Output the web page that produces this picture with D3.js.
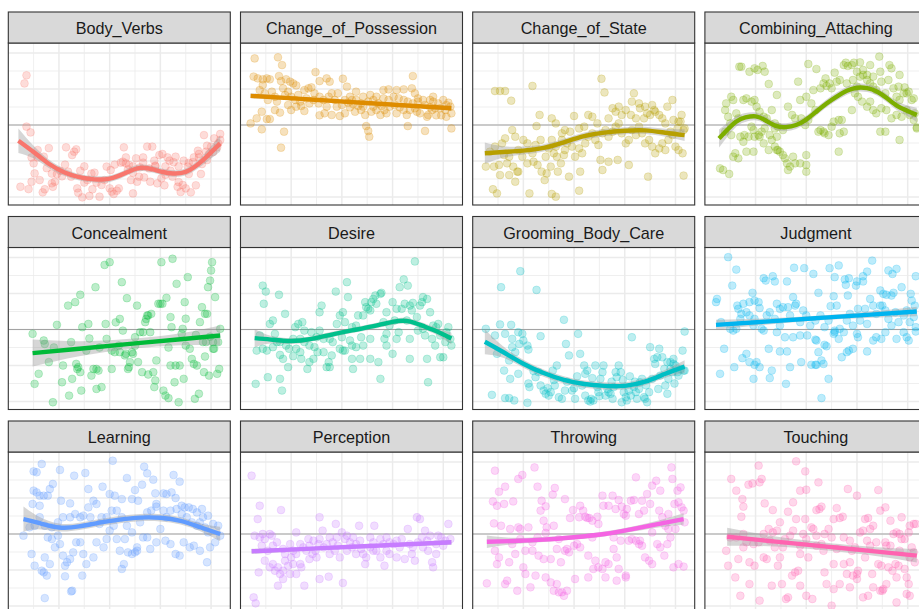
<!DOCTYPE html>
<html>
<head>
<meta charset="utf-8">
<script src="https://cdn.jsdelivr.net/npm/d3@7"></script>
<style>
html, body { margin: 0; padding: 0; background: #ffffff; overflow: hidden; }
svg { display: block; }
</style>
</head>
<body>
<svg id="chart" width="919" height="609"></svg>
<script>
// Verb classes, one facet each, with the default hue palette
const categories = ["Body_Verbs", "Change_of_Possession", "Change_of_State", "Combining_Attaching",
  "Concealment", "Desire", "Grooming_Body_Care", "Judgment",
  "Learning", "Perception", "Throwing", "Touching"];
const colors = ["#F8766D", "#DE8C00", "#B79F00", "#7CAE00", "#00BA38", "#00C08B",
  "#00BFC4", "#00B4F0", "#619CFF", "#C77CFF", "#F564E3", "#FF64B0"];

const xBreaksMajor = [1850, 1900, 1950, 2000];
const xBreaksMinor = [1825, 1875, 1925, 1975];
const yBreaksMajor = [-4, -2, 0, 2, 4];
const yBreaksMinor = [-3, -1, 1, 3];

// Yearly scores: [year, value]
const bodyVerbsPoints = [[1818,2.76],[1816,2.31],[1818,-0.09],[1822,-0.41],[1812,-3.43],[1820,-3.56],[1823,-3.15],[1825,-2.13],[1826,-2.69],[1829,-1.39],[1835,-1.76],[1840,-1.28],[1831,-3.06],[1834,-3.74],[1836,-3.57],[1843,-3.24],[1844,-3.43],[1846,-3.15],[1848,-2.72],[1851,-2.54],[1853,-2.85],[1857,-1.24],[1859,-2.59],[1862,-2.87],[1863,-1.67],[1865,-1.48],[1867,-1.35],[1868,-3.52],[1869,-3.76],[1871,-2.54],[1873,-4.02],[1875,-3.2],[1878,-3.06],[1880,-3.94],[1883,-3.57],[1885,-2.65],[1887,-3.2],[1890,-3.98],[1892,-3.33],[1895,-3.06],[1897,-2.31],[1900,-3.52],[1902,-3.7],[1904,-3.83],[1907,-3.65],[1909,-3.52],[1911,-2.09],[1913,-2.04],[1914,-1.24],[1916,-2.13],[1918,-2.46],[1919,-2.22],[1921,-3.06],[1923,-2.65],[1923,-3.8],[1926,-1.85],[1927,-3.15],[1929,-2.87],[1930,-2.35],[1933,-2.09],[1934,-2.91],[1937,-1.2],[1939,-2.41],[1940,-3.15],[1942,-1.2],[1944,-1.98],[1945,-2.26],[1947,-3.24],[1949,-1.67],[1951,-2.96],[1952,-1.61],[1954,-3.35],[1955,-2.76],[1957,-1.8],[1959,-1.98],[1960,-2.54],[1962,-2.87],[1963,-2.07],[1965,-1.76],[1967,-3.43],[1968,-3.17],[1970,-3.72],[1972,-3.33],[1973,-1.98],[1975,-3.52],[1977,-2.31],[1978,-2.72],[1980,-3.74],[1982,-2.06],[1983,-1.8],[1985,-3.35],[1987,-1.43],[1988,-1.61],[1990,-2.72],[1991,-2.17],[1993,-0.56],[1995,-1.48],[1996,-1.15],[1998,-1.61],[2000,-1.2],[2003,-0.74],[2006,-1.24],[2007,-1.02],[2009,-0.5],[2009,-0.83],[1838,-2.4],[1843,-2.7],[1856,-2.2],[1875,-2.3],[1882,-2.7],[1901,-2.5],[1905,-2.2],[1916,-1.8],[1923,-2.3],[1933,-1.8],[1945,-2.3],[1955,-2.3],[1968,-2.3],[1978,-2.1],[1988,-1.8],[1996,-1.95],[2002,-1.5],[1829,-1.8],[1823,-1.8]];

const changeOfPossessionPoints = [[1814,3.7],[1837,3.76],[1841,3.33],[1813,2.69],[1817,2.59],[1822,2.54],[1826,2.59],[1829,2.54],[1838,2.72],[1840,2.44],[1845,2.54],[1849,2.41],[1852,2.31],[1855,2.2],[1874,2.94],[1878,2.44],[1885,2.59],[1888,2.41],[1901,2.57],[1905,2.13],[1914,1.39],[1921,1.57],[1928,1.67],[1934,1.57],[1941,1.94],[1946,1.98],[1954,1.94],[1961,1.98],[1970,2.72],[1969,2.04],[1972,1.76],[1975,1.48],[1980,1.39],[1987,1.39],[1990,1.3],[1995,1.2],[2003,1.11],[2007,1.02],[1810,0.09],[1816,0.37],[1821,0.74],[1826,0.33],[1829,0.33],[1834,0.83],[1839,0.69],[1843,-0.37],[1840,-1.26],[1821,-0.24],[1847,1.11],[1850,0.83],[1855,1.02],[1860,1.06],[1863,0.78],[1868,1.2],[1878,0.54],[1883,0.65],[1890,0.56],[1898,0.5],[1903,0.65],[1908,0.98],[1911,1.17],[1916,1.06],[1919,0.83],[1923,0.56],[1924,-0.06],[1926,-0.33],[1927,-0.65],[1929,0.74],[1934,0.83],[1939,1.06],[1942,0.83],[1947,1.02],[1952,1.11],[1957,0.98],[1961,0.83],[1965,-0.06],[1967,0.83],[1972,0.93],[1977,0.65],[1982,-0.33],[1984,0.46],[1989,0.83],[1993,0.54],[1998,0.54],[2003,0.46],[2008,-0.19],[2008,0.65],[1819,1.94],[1822,2.22],[1831,1.85],[1834,1.57],[1842,2.04],[1844,1.67],[1850,1.57],[1854,1.39],[1859,1.3],[1863,1.94],[1867,2.04],[1870,2.09],[1873,1.76],[1878,1.57],[1882,1.39],[1887,1.57],[1890,1.76],[1893,1.39],[1896,1.76],[1903,1.39],[1906,1.24],[1910,1.39],[1914,1.85],[1919,1.2],[1926,1.3],[1931,1.39],[1936,1.2],[1941,1.48],[1946,1.39],[1951,1.57],[1956,1.48],[1961,1.39],[1965,1.3],[1970,1.2],[1975,1.3],[1982,1.11],[1987,0.98],[1992,0.93],[1997,0.93],[2002,0.83],[2005,1.24],[1824,1.76],[1827,1.39],[1836,1.3],[1847,1.85],[1857,1.67],[1865,1.48],[1872,1.39],[1877,1.2],[1885,1.02],[1895,1.02],[1900,1.11],[1908,1.57],[1913,0.74],[1921,1.02],[1931,1.02],[1938,0.56],[1944,0.65],[1954,0.65],[1964,0.56],[1974,0.74],[1985,0.56],[2000,1.39],[1990,1.57]];

const changeOfStatePoints = [[1822,1.89],[1827,1.89],[1832,1.89],[1838,1.35],[1859,2.17],[1927,2.57],[1930,1.81],[1959,1.76],[1957,1.3],[1964,1.2],[1970,1.02],[1977,1.11],[1979,0.83],[1984,0.56],[1992,1.02],[1997,1.39],[2003,0.19],[2006,0.56],[2009,-0.19],[2008,-2.81],[1973,-2.87],[1954,-2.22],[1943,-1.94],[1934,-2.04],[1928,-2.5],[1926,-1.94],[1905,-3.65],[1906,-2.59],[1895,-2.87],[1884,-2.59],[1878,-3.83],[1882,-3.98],[1866,0.56],[1863,-0.06],[1856,-3.8],[1842,-3.15],[1844,-2.59],[1836,-2.78],[1827,-2.78],[1824,-3.8],[1820,-3.57],[1813,-2.31],[1826,-2.22],[1834,-2.13],[1845,-2.59],[1849,-1.76],[1854,-2.13],[1860,-2.04],[1864,-2.22],[1868,-2.59],[1871,-3.06],[1873,-2.69],[1877,-2.31],[1880,-1.57],[1883,-1.76],[1887,-2.13],[1890,-1.67],[1893,-1.02],[1898,-1.2],[1901,-1.76],[1905,-1.3],[1908,-1.57],[1911,-1.02],[1914,-0.65],[1918,-0.46],[1921,-0.83],[1924,-1.11],[1928,-0.46],[1931,-0.28],[1934,-0.65],[1938,-0.37],[1941,-0.09],[1944,0.09],[1947,-0.46],[1951,-1.02],[1954,-0.83],[1957,-0.28],[1961,-0.56],[1964,-0.09],[1967,-0.46],[1970,-1.02],[1974,-0.83],[1977,-1.2],[1980,-1.57],[1984,-1.3],[1987,-1.02],[1990,-1.39],[1993,-0.83],[1997,-0.56],[2000,-1.2],[2003,-1.39],[2007,-1.57],[2008,-0.28],[1878,0.37],[1882,0.09],[1888,-0.46],[1891,-0.28],[1896,-0.37],[1900,0.5],[1905,-0.19],[1910,-0.09],[1914,0.56],[1918,0.46],[1923,0.09],[1934,0.37],[1938,0.93],[1941,0.74],[1944,1.02],[1947,0.56],[1951,0.83],[1956,0.56],[1961,0.37],[1965,0.93],[1969,0.37],[1972,0.65],[1975,0.56],[1980,0.74],[1987,0.37],[1990,0.09],[1995,-0.37],[1998,0.28],[2002,-0.19],[2005,0.19],[1817,-1.48],[1822,-1.2],[1829,-1.02],[1832,-0.74],[1839,-0.28],[1842,-0.65],[1845,-1.39],[1850,-0.83],[1854,-1.02],[1859,-1.57],[1862,-1.11],[1867,-0.83],[1872,-1.76],[1875,-1.3],[1878,-0.83],[1882,-1.2],[1888,-0.83],[1891,-1.39],[1831,-1.67],[1836,-1.76],[1840,-2.31],[1821,-2.31]];

const combiningAttachingPoints = [[1815,-2.41],[1824,-2.72],[1834,3.24],[1836,3.24],[1844,2.96],[1849,3.15],[1857,3.28],[1859,2.96],[1852,3.06],[1863,2.28],[1871,1.67],[1892,2.41],[1902,3.39],[1910,3.11],[1919,2.59],[1923,2.31],[1928,2.91],[1937,3.33],[1939,3.46],[1941,3.28],[1945,3.33],[1947,3.46],[1953,3.48],[1956,3.06],[1963,3.33],[1972,3.8],[1982,3.33],[1984,3.15],[1992,2.78],[1991,2.13],[1997,2.09],[1999,1.76],[2004,1.39],[2007,0.65],[2009,-0.19],[1820,0.83],[1826,1.57],[1828,1.39],[1821,1.2],[1823,0.46],[1825,0.09],[1831,0.65],[1833,0.37],[1838,1.39],[1841,1.48],[1846,1.3],[1849,1.39],[1851,1.02],[1854,0.74],[1858,0.46],[1861,0.37],[1866,0.83],[1869,0.09],[1872,-0.09],[1877,-0.28],[1882,1.02],[1886,0.56],[1889,0.37],[1895,0.37],[1899,0],[1902,0.28],[1905,1.2],[1909,0.83],[1912,-0.37],[1914,-0.28],[1918,-0.46],[1922,-0.56],[1927,0.19],[1932,0.28],[1935,0.28],[1937,-0.37],[1945,0.83],[1948,1.76],[1951,1.57],[1955,1.3],[1960,1.02],[1963,1.3],[1966,0.83],[1969,0.65],[1974,0.93],[1979,0.83],[1984,0.37],[1989,0.56],[1994,0.46],[1999,0.83],[2002,0.56],[2006,0.28],[2009,-0.13],[1894,1.39],[1900,1.57],[1907,1.94],[1914,2.04],[1917,2.31],[1920,2.17],[1925,2.04],[1930,2.41],[1933,2.5],[1940,2.31],[1946,2.5],[1950,2.13],[1953,2.69],[1956,2.78],[1960,2.5],[1963,2.31],[1966,2.13],[1969,1.94],[1974,2.41],[1978,1.76],[1981,2.5],[1986,2.04],[1989,1.57],[1992,1.39],[1996,1.76],[2001,1.85],[2006,1.48],[1973,2.96],[1966,2.69],[1960,2.78],[1950,2.96],[1818,-2.5],[1828,-1.76],[1830,-1.57],[1833,-1.85],[1838,-0.93],[1839,-0.56],[1843,-0.65],[1846,-0.09],[1848,-0.28],[1849,-0.65],[1853,-0.56],[1854,-0.65],[1856,-0.37],[1858,-1.02],[1863,-1.39],[1866,-0.83],[1869,-1.2],[1871,-1.39],[1872,-1.39],[1874,-1.48],[1877,-1.67],[1879,-1.85],[1881,-2.13],[1882,-2.5],[1884,-2.31],[1889,-2.13],[1894,-2.13],[1900,-2.22],[1900,-2.59],[1887,-1.76],[1900,-1.67],[1917,-0.37],[1925,-0.09],[1933,-0.46],[1973,-0.37],[1978,-0.37],[1992,-0.83],[1932,-1.48],[1871,-0.65],[1864,-0.56],[1869,-0.19],[1859,-0.19],[1835,-0.65],[1841,-1.48],[1848,-1.48],[1826,-0.56],[1820,-0.37]];

const concealmentPoints = [[1824,-0.24],[1830,-2.46],[1826,-3.02],[1835,-0.61],[1836,-0.8],[1840,-1.81],[1844,-4.04],[1848,0.26],[1854,-2.0],[1853,-2.93],[1859,1.33],[1860,-3.67],[1863,-2.74],[1866,1.52],[1867,-1.91],[1868,-2.19],[1869,-2.09],[1871,-2.37],[1871,1.93],[1872,-3.39],[1873,0.13],[1877,-1.17],[1879,0.31],[1882,-2.56],[1884,-2.19],[1886,2.35],[1887,-3.3],[1887,-2.19],[1889,-2.28],[1892,-3.2],[1895,3.59],[1896,0.31],[1897,-0.52],[1900,3.74],[1902,-2.19],[1902,-1.17],[1905,-1.26],[1909,-0.89],[1910,0.59],[1910,-1.26],[1912,2.63],[1913,-0.06],[1915,-1.44],[1916,-1.35],[1917,1.74],[1918,-2.19],[1919,-2.09],[1920,-1.81],[1922,-1.26],[1923,-1.35],[1925,-0.43],[1927,1.33],[1928,-1.81],[1930,-0.15],[1932,-2.37],[1933,-0.15],[1935,0.41],[1936,0.59],[1937,0.78],[1938,0.78],[1940,-0.15],[1941,0.87],[1943,-2.37],[1944,-3.2],[1945,-2.83],[1946,-1.72],[1948,1.43],[1950,1.43],[1951,3.74],[1952,1.43],[1953,-3.39],[1955,-3.67],[1956,1.76],[1958,-3.81],[1960,0.69],[1960,-2.0],[1961,0.13],[1962,3.93],[1964,-2.93],[1965,-2.0],[1966,2.54],[1968,-4.04],[1969,-2.0],[1971,-0.24],[1972,0.04],[1973,-2.74],[1974,1.52],[1975,-0.89],[1977,2.91],[1979,-1.07],[1981,-1.63],[1983,-1.91],[1984,-3.85],[1986,-2.0],[1988,-3.57],[1989,0.41],[1991,1.24],[1992,-0.7],[1993,-2.37],[1994,0.87],[1995,-0.7],[1996,0.87],[1997,2.35],[1998,-2.56],[1999,2.72],[2000,3.28],[2001,3.74],[2002,-0.7],[2002,-1.07],[2003,-1.07],[2004,1.8],[2006,-2.46],[2007,-0.7],[2008,-2.19],[2009,0.04],[1890,-1.0],[1906,0.4],[1925,-0.9],[1958,-1.0],[1985,-0.3],[1999,-0.4],[1880,-0.5],[1845,-1.0],[1862,-0.7],[1938,-2.5],[1975,0.6],[1994,-1.5]];

const desirePoints = [[1822,2.44],[1825,2.11],[1823,1.43],[1829,0.31],[1832,0.5],[1838,1.93],[1844,0.87],[1834,-0.24],[1822,-1.07],[1826,-1.17],[1816,-1.17],[1815,-3.02],[1827,-2.65],[1839,-2.74],[1841,-3.39],[1836,-0.7],[1839,-1.41],[1842,-1.63],[1847,-2.09],[1848,-1.07],[1852,-1.48],[1855,-1.07],[1859,-1.26],[1860,-1.63],[1861,0.41],[1857,0.31],[1854,0.13],[1859,-0.52],[1863,-0.7],[1866,-2.19],[1868,-1.81],[1870,-0.15],[1873,-0.98],[1876,-1.26],[1878,0.96],[1880,1.33],[1878,-0.06],[1882,-0.52],[1885,-2.09],[1887,-1.81],[1888,-2.09],[1891,-0.7],[1894,2.11],[1895,0.31],[1898,0.78],[1901,0.96],[1903,0.41],[1905,2.63],[1906,1.8],[1898,-1.07],[1901,-1.17],[1903,-1.17],[1908,-0.61],[1910,-1.63],[1911,-2.19],[1914,-0.98],[1916,0.78],[1918,-1.63],[1919,-0.43],[1921,0.78],[1923,1.52],[1924,1.24],[1926,1.15],[1928,1.06],[1929,1.52],[1931,1.7],[1933,1.89],[1934,1.43],[1938,1.98],[1939,2.04],[1941,0.41],[1942,-0.52],[1944,-0.24],[1944,0.96],[1947,0.22],[1936,-1.81],[1938,-2.74],[1950,1.52],[1952,0.5],[1954,1.15],[1956,-0.15],[1957,2.35],[1959,1.15],[1961,2.78],[1962,1.43],[1964,0.5],[1965,2.44],[1967,1.33],[1969,1.06],[1970,1.48],[1972,3.78],[1974,0.69],[1975,-0.06],[1977,1.33],[1979,1.52],[1980,1.8],[1982,-0.33],[1984,1.7],[1985,-2.93],[1987,0.96],[1989,-0.52],[1990,0.22],[1992,-0.89],[1993,0.13],[1995,0.31],[1997,-1.54],[2000,-1.54],[2002,-0.7],[2005,0.13],[2007,-0.52],[2008,-0.89],[2003,-0.15],[1997,-0.33],[1984,-1.63],[1980,0.04],[1967,-0.52],[1967,-1.63],[1954,-0.52],[1950,-1.35],[1944,-0.89],[1928,-0.52],[1921,-0.89],[1914,0.22],[1910,0.13],[1900,-0.43],[1888,-0.52],[1882,-1.26],[1875,-0.43],[1868,-0.89],[1863,-0.06],[1852,-0.52],[1845,-0.89],[1839,-0.7],[1832,-0.98],[1819,-0.33],[1872,-1.63],[1890,-1.44],[1928,-1.63],[1910,-0.89]];

const groomingBodyCarePoints = [[1847,3.24],[1828,2.35],[1863,2.2],[1890,0.54],[1813,0.04],[1827,0.28],[1838,0.26],[1822,-0.33],[1832,-0.24],[1849,-0.24],[1867,-0.37],[1850,-0.61],[1854,-0.89],[1855,-1.11],[1824,-1.35],[1836,-1.72],[1839,-0.52],[1845,-0.15],[1839,-0.98],[1831,-2.28],[1837,-2.74],[1845,-2.46],[1842,-1.26],[1846,-0.8],[1819,-3.63],[1832,-3.81],[1836,-3.81],[1841,-3.94],[1854,-4.07],[1856,-3.2],[1862,-2.65],[1865,-2.37],[1867,-3.11],[1870,-3.39],[1872,-3.57],[1874,-3.26],[1875,-3.67],[1877,-3.48],[1879,-2.28],[1881,-3.11],[1883,-2.0],[1885,-3.76],[1888,-3.85],[1891,-3.39],[1892,-0.8],[1895,-1.44],[1898,-3.39],[1900,-3.26],[1901,-3.85],[1904,-0.24],[1906,-1.35],[1908,-3.11],[1910,-2.0],[1911,-2.46],[1911,-3.67],[1913,-2.28],[1914,-3.94],[1916,-4.0],[1917,-3.85],[1919,-3.94],[1921,-2.0],[1923,-3.2],[1924,-3.48],[1926,-2.74],[1928,-2.37],[1929,-2.0],[1931,-3.67],[1933,-3.3],[1934,-3.48],[1936,-3.57],[1938,-3.85],[1939,-3.2],[1941,-2.37],[1942,-2.65],[1944,-2.0],[1946,-2.37],[1947,-4.04],[1949,-3.48],[1951,-3.76],[1952,-3.94],[1954,-3.39],[1956,-3.67],[1957,-0.43],[1959,-3.2],[1961,-3.48],[1962,-3.85],[1964,-3.3],[1965,-2.93],[1967,-2.74],[1969,-3.76],[1970,-3.85],[1972,-4.04],[1974,-3.48],[1975,-0.98],[1977,-2.74],[1979,-1.63],[1980,-1.91],[1982,-1.54],[1984,-1.07],[1985,-2.56],[1987,-1.54],[1989,-2.19],[1990,-3.11],[1992,-3.57],[1993,-2.74],[1995,-1.81],[1997,-2.37],[1998,-1.63],[2000,-2.0],[2002,-2.37],[2003,-2.56],[2005,-2.19],[2007,-1.17],[2008,-2.28],[2009,-0.11],[2009,-2.28],[1992,-1.81],[1995,-2.19],[1998,-1.91],[1855,-3.0],[1860,-2.3],[1880,-2.8],[1893,-2.9],[1903,-2.6],[1918,-2.7],[1925,-3.7],[1937,-2.9],[1948,-2.8],[1955,-2.6],[1960,-2.9],[1971,-3.1],[1983,-3.3],[1999,-3.0]];

const judgmentPoints = [[1823,4.02],[1831,3.33],[1827,2.44],[1811,1.52],[1812,1.7],[1832,1.33],[1833,1.15],[1838,1.43],[1844,1.52],[1847,2.04],[1849,1.61],[1853,1.52],[1854,1.19],[1858,2.85],[1860,2.72],[1867,2.96],[1869,2.67],[1881,2.67],[1888,3.43],[1898,3.41],[1907,3.09],[1923,3.41],[1932,3.56],[1928,2.91],[1938,2.78],[1939,2.48],[1942,2.85],[1949,2.44],[1950,2.67],[1956,2.96],[1956,2.67],[1960,3.22],[1965,3.83],[1981,3.28],[1985,3.09],[1989,3.37],[1994,2.35],[2008,2.96],[1973,2.17],[1976,1.98],[1979,1.93],[1984,1.89],[1986,2.04],[2003,1.98],[2004,1.61],[2007,1.33],[1816,0.41],[1825,0.04],[1828,-0.06],[1831,0.04],[1835,0.59],[1836,0.87],[1841,0.96],[1844,0.78],[1848,0.22],[1849,0.59],[1856,0.04],[1861,0.78],[1864,0.96],[1869,0.59],[1871,1.43],[1874,1.15],[1877,1.24],[1882,1.24],[1884,0.78],[1887,1.8],[1889,1.33],[1890,1.43],[1894,0.41],[1897,1.06],[1900,0.78],[1904,0.22],[1909,0.5],[1912,2.04],[1914,0.78],[1918,0.13],[1922,0.5],[1924,1.3],[1927,1.85],[1928,-0.15],[1930,1.33],[1933,0.04],[1937,-0.15],[1940,0.5],[1941,1.89],[1943,0.87],[1946,0.22],[1950,-0.24],[1951,1.15],[1953,0.5],[1958,1.15],[1960,0.31],[1963,1.7],[1966,1.33],[1969,0.87],[1973,1.33],[1975,1.33],[1978,1.06],[1981,0.59],[1984,0.22],[1988,0.96],[1991,0.41],[1996,0.78],[1999,1.06],[2002,0.41],[2006,0.69],[2008,0.13],[1819,-1.07],[1815,-2.46],[1829,-2.09],[1837,-1.59],[1841,-1.35],[1844,-1.81],[1849,-1.96],[1851,-1.81],[1854,-2.09],[1848,-2.74],[1864,-2.7],[1866,-2.28],[1874,-1.22],[1879,-0.43],[1881,-1.22],[1884,-2.09],[1895,-1.81],[1901,-0.33],[1905,-1.96],[1909,-1.96],[1910,-1.96],[1912,-1.26],[1915,-1.72],[1917,-1.91],[1918,-0.85],[1920,-0.93],[1922,-2.74],[1928,-0.06],[1935,-1.54],[1940,-1.26],[1942,-1.17],[1946,-1.07],[1951,-0.43],[1960,-1.22],[1966,-0.61],[1969,-0.43],[1974,-0.52],[1978,-0.15],[1989,-0.52],[1996,-0.15],[1999,-0.43],[2001,-0.61],[2008,-0.11],[1915,-3.81],[1880,-3.02],[1863,-1.07],[1871,-0.15],[1909,-0.56],[1910,-0.61],[1927,-0.24],[1932,-0.52],[1894,-0.33],[1887,-0.43],[1874,0.22],[1858,-0.06]];

const learningPoints = [[1815,-0.09],[1821,0.37],[1823,-1.11],[1825,3.48],[1828,3.43],[1833,3.89],[1825,2.41],[1828,2.31],[1831,2.13],[1835,2.13],[1839,2.13],[1841,2.5],[1844,2.78],[1824,1.67],[1831,1.57],[1851,3.56],[1852,1.85],[1861,1.7],[1865,3.24],[1876,3.39],[1879,2.5],[1893,2.63],[1903,4.07],[1917,3.11],[1934,3.74],[1937,3.37],[1943,3.02],[1925,2.44],[1932,2.74],[1945,2.26],[1953,2.26],[1961,2.31],[1963,3.28],[1969,2.91],[1965,2.0],[1971,1.57],[1974,1.48],[1978,1.48],[1982,1.39],[1986,1.2],[1991,1.39],[1992,0.93],[1997,1.02],[2002,0.56],[2007,0.46],[2009,-0.09],[2004,-0.46],[1999,-0.74],[1996,-1.57],[1989,-0.93],[1983,-0.65],[1979,-0.74],[1973,-0.46],[1969,-1.2],[1965,-1.11],[1960,-0.56],[1955,-0.37],[1950,0.28],[1946,-0.46],[1940,-0.83],[1937,-0.19],[1933,-0.19],[1927,-0.93],[1925,-1.02],[1922,-1.11],[1918,-1.02],[1915,-0.28],[1910,-0.93],[1907,-0.28],[1904,0.46],[1900,0.19],[1897,-0.28],[1894,-0.74],[1890,0.56],[1887,-0.46],[1884,-1.3],[1881,0.93],[1877,-1.67],[1874,-1.11],[1871,-0.46],[1867,-0.46],[1864,-1.02],[1861,-1.39],[1858,-1.57],[1856,-1.76],[1854,-1.2],[1851,-0.56],[1849,-0.09],[1846,-0.74],[1843,-0.28],[1839,-0.19],[1836,-1.3],[1835,-2.13],[1838,-2.31],[1841,-1.67],[1826,-1.76],[1833,-2.04],[1856,-2.35],[1863,-3.15],[1873,-2.31],[1836,-3.56],[1862,-3.19],[1912,-1.94],[1914,-1.67],[1927,-0.74],[1930,0.65],[1937,1.2],[1941,1.3],[1946,1.52],[1953,1.3],[1956,0.93],[1960,1.3],[1966,1.39],[1971,1.11],[1976,0.93],[1981,0.65],[1986,0.46],[1989,0.65],[1994,0.37],[1997,0.09],[1922,0.09],[1917,0.46],[1912,0.93],[1907,1.3],[1902,1.3],[1897,0.93],[1892,0.93],[1887,1.67],[1884,1.85],[1879,1.48],[1874,1.02],[1871,0.93],[1866,1.11],[1861,0.93],[1854,0.93],[1849,0.65],[1843,0.37],[1836,0.46],[1831,0.93],[1826,0.46],[1900,2.22],[1905,2.13],[1912,1.94],[1922,1.94],[1928,1.85],[1946,1.67],[1956,2.22]];

const perceptionPoints = [[1811,3.24],[1819,1.57],[1817,0.83],[1840,1.33],[1878,0.93],[1894,0.56],[1917,0.46],[1932,0.46],[1974,0.93],[1977,0.83],[2005,0.56],[1813,-3.52],[1815,-3.85],[1814,-0.09],[1819,-0.19],[1822,0],[1824,-0.28],[1829,0],[1831,-0.09],[1836,-0.46],[1821,-0.65],[1824,-1.48],[1829,-1.85],[1832,-1.67],[1834,-2.04],[1837,-1.85],[1839,-2.22],[1842,-2.04],[1844,-1.48],[1847,-1.76],[1850,-1.3],[1852,-1.67],[1855,-2.22],[1859,-1.67],[1860,-1.85],[1863,-2.87],[1868,-1.39],[1871,-1.11],[1874,-0.93],[1878,-2.5],[1887,-2.37],[1901,-2.72],[1837,-2.87],[1842,-2.5],[1818,-2.13],[1849,-2.22],[1855,0.09],[1862,-0.74],[1867,-0.28],[1872,-0.37],[1877,-0.56],[1881,0.19],[1885,-0.56],[1888,-0.19],[1891,-0.46],[1896,-0.65],[1900,0.09],[1903,-0.28],[1908,-0.46],[1911,-0.19],[1914,-0.56],[1918,-0.37],[1919,-0.83],[1923,-1.67],[1924,-1.3],[1928,-0.74],[1931,-0.46],[1934,-0.93],[1938,-1.3],[1942,-1.76],[1944,-0.19],[1947,-0.46],[1951,-0.56],[1954,-0.37],[1959,-0.28],[1962,-1.39],[1965,0.28],[1969,-1.11],[1972,-1.48],[1975,-0.46],[1979,-0.19],[1982,0.19],[1984,-0.37],[1985,-0.93],[1989,-1.57],[1990,-1.85],[1993,-1.11],[1995,-0.09],[1998,-0.19],[2002,-0.37],[2007,-0.28],[1987,-0.09],[1967,-0.56],[1941,-0.56],[1905,-0.93],[1888,-1.11],[1875,-1.3],[1865,-0.93],[1859,-0.56],[1849,-0.56],[1842,-0.83],[1832,-0.65],[1827,-0.93],[1852,-0.93],[1868,-0.65],[1882,-0.74],[1893,-0.93],[1910,-0.74],[1921,-1.11],[1931,-0.93],[1944,-0.93],[1957,-0.74],[1970,-0.74],[1980,-0.74],[1993,-0.56],[2000,-0.65],[1844,-1.11],[1855,-1.11],[1898,-1.3],[1914,-1.11],[1954,-1.3],[1947,-1.11],[1938,-0.28],[1928,-0.19],[1905,-0.09],[1895,-0.19],[1878,-0.28]];

const throwingPoints = [[1822,3.52],[1826,2.35],[1832,2.63],[1845,3.06],[1849,3.28],[1861,3.7],[1864,2.63],[1820,1.81],[1824,1.57],[1831,1.67],[1840,1.81],[1821,0.59],[1828,0.46],[1837,0.28],[1845,0.37],[1847,0.28],[1855,0.37],[1868,1.85],[1872,1.54],[1879,2.19],[1881,2.56],[1891,1.94],[1867,1.3],[1870,0.74],[1873,0.37],[1880,0.46],[1872,0.06],[1885,-0.28],[1896,0.89],[1899,1.33],[1905,0.93],[1906,1.57],[1909,1.3],[1911,0.96],[1913,0.89],[1915,0.89],[1918,0.74],[1923,0.96],[1924,0.56],[1928,2.13],[1929,1.57],[1934,1.57],[1938,2.13],[1941,1.39],[1944,1.89],[1947,1.52],[1949,1.11],[1951,1.02],[1952,1.39],[1956,1.85],[1959,1.89],[1961,3.15],[1964,1.11],[1967,1.85],[1969,1.3],[1972,2.22],[1975,1.67],[1977,2.69],[1981,2.96],[1985,2.41],[1984,1.3],[1987,0.93],[1990,0.46],[1993,0.28],[1996,3.7],[1997,3.06],[1999,1.67],[2002,2.41],[2003,1.76],[2005,2.59],[2006,1.48],[2008,1.3],[2009,0.65],[1822,-0.93],[1826,-1.3],[1824,-1.67],[1836,-1.57],[1842,-1.11],[1852,-0.93],[1859,-0.93],[1865,-1.2],[1870,-1.39],[1877,-1.39],[1883,-0.83],[1887,-1.57],[1891,-0.93],[1893,-0.83],[1895,-1.02],[1900,-0.65],[1903,-0.56],[1906,-0.74],[1914,-1.2],[1921,-1.48],[1924,-1.85],[1928,-1.94],[1931,-1.57],[1934,-1.67],[1939,-0.83],[1942,-1.3],[1944,-1.94],[1946,-0.37],[1951,-2.41],[1954,-0.37],[1957,-0.28],[1961,-0.37],[1964,-0.56],[1965,-0.37],[1967,-0.65],[1970,-1.3],[1974,-1.48],[1977,-1.67],[1982,-0.56],[1985,-0.74],[1989,-1.2],[1992,-0.56],[1995,-0.19],[1998,-1.85],[2003,-1.67],[2008,-1.81],[1814,-2.74],[1832,-2.78],[1834,-2.59],[1844,-3.15],[1850,-1.85],[1852,-2.22],[1857,-2.96],[1862,-2.31],[1872,-2.41],[1877,-2.69],[1880,-3.15],[1883,-2.78],[1885,-3.24],[1890,-3.43],[1888,-3.24],[1893,-3.15],[1901,-2.5],[1914,-2.41],[1919,-1.94],[1931,-2.41],[1942,-2.59],[1951,-2.31],[1839,-0.56],[1847,-0.28],[1859,-0.46],[1864,-0.19],[1918,-0.19],[1939,-0.19],[1977,0.09],[2000,0.28],[1993,1.11]];

const touchingPoints = [[1853,3.8],[1890,4.04],[1899,3.48],[1826,3.06],[1831,2.41],[1837,1.94],[1843,2.74],[1847,2.81],[1854,2.87],[1856,3.06],[1838,1.52],[1836,0.96],[1859,1.7],[1867,1.33],[1874,0.65],[1882,1.24],[1887,1.76],[1890,0.83],[1894,2.41],[1900,2.46],[1899,0.83],[1912,2.87],[1913,1.39],[1910,1.33],[1907,0.28],[1915,1.52],[1922,0.28],[1927,0.83],[1930,1.44],[1933,0.89],[1936,0.96],[1941,2.5],[1950,2.13],[1958,0.83],[1961,0.89],[1966,0.46],[1971,2.44],[1973,1.3],[1978,1.48],[1983,0.74],[1986,0],[1989,0.09],[1992,0],[1994,0.93],[1997,-0.28],[2001,0.09],[2002,0.46],[2006,0.56],[2008,0.56],[1821,-0.93],[1823,-1.76],[1830,-2.41],[1833,-1.39],[1838,-0.74],[1844,-1.57],[1849,-1.76],[1853,-0.46],[1858,-1.3],[1861,-1.39],[1863,0.28],[1867,0.09],[1871,0.19],[1872,-1.76],[1876,-2.78],[1877,-0.74],[1884,-0.09],[1886,-2.31],[1889,-2.13],[1892,-2.04],[1894,-1.11],[1897,0],[1902,-1.3],[1905,0.37],[1910,-0.65],[1915,-0.56],[1917,-0.93],[1918,-2.13],[1920,-2.78],[1925,-0.19],[1927,-1.67],[1930,-0.83],[1933,-2.78],[1937,-1.67],[1940,-2.22],[1943,-1.57],[1945,-0.93],[1946,-2.31],[1950,-2.22],[1951,-2.04],[1953,0.09],[1956,0.19],[1958,-1.3],[1960,-0.37],[1963,0.28],[1965,-2.22],[1966,-2.96],[1969,-0.46],[1971,-1.67],[1973,-3.15],[1974,-1.76],[1976,-3.06],[1978,-0.46],[1979,-2.78],[1981,-1.85],[1983,-0.65],[1985,-2.04],[1988,-1.67],[1989,-2.41],[1991,-1.76],[1994,-0.28],[1997,-1.94],[1999,-2.41],[2001,-2.78],[2002,-1.3],[2004,-0.74],[2006,-1.02],[2007,-1.57],[2002,-3.43],[1927,-3.06],[1943,-2.96],[1894,-2.87],[1866,-2.87],[1854,-3.7],[1880,-3.61],[1882,-3.52],[1900,-3.43],[1906,-3.61],[1925,-3.98],[1835,-3.43],[1844,-2.78],[1956,-3.52],[1975,-3.15],[1989,-3.8],[1999,-3.33],[1961,-3.43],[1950,-2.5],[1825,-0.19],[1841,-0.46],[1848,-0.56],[1858,0],[1864,-0.37],[1869,-0.74],[1879,-0.28],[1887,0.19],[1900,-0.28],[1910,-0.09],[1918,0],[1937,-0.19],[1943,-0.37],[1948,-0.74],[1963,-0.65],[1979,-0.65],[1992,-0.93],[1874,-1.3],[1894,-0.65],[1838,0],[1831,-0.19]];

// Smoothed trend per class: [year, fitted value, standard-error half width]
const bodyVerbsFit = [[1810,-0.87,0.68],[1825,-1.5,0.35],[1840,-2.15,0.24],[1855,-2.62,0.2],[1870,-2.9,0.18],[1885,-3.02,0.18],[1900,-2.98,0.18],[1915,-2.68,0.18],[1930,-2.38,0.18],[1945,-2.5,0.18],[1960,-2.68,0.18],[1975,-2.6,0.19],[1990,-2.05,0.24],[2009,-1.02,0.45]];
const changeOfPossessionFit = [[1810,1.62,0.14],[1860,1.45,0.08],[1910,1.27,0.06],[1960,1.1,0.07],[2008,0.93,0.13]];
const changeOfStateFit = [[1812,-1.57,0.6],[1830,-1.5,0.32],[1850,-1.42,0.22],[1870,-1.27,0.2],[1890,-0.96,0.2],[1910,-0.62,0.2],[1930,-0.42,0.2],[1950,-0.32,0.2],[1970,-0.3,0.2],[1990,-0.43,0.22],[2009,-0.56,0.33]];
const combiningAttachingFit = [[1814,-0.75,0.5],[1830,0.15,0.3],[1840,0.42,0.25],[1850,0.48,0.22],[1860,0.25,0.22],[1870,-0.05,0.22],[1880,-0.12,0.22],[1890,0.0,0.22],[1900,0.3,0.22],[1910,0.75,0.22],[1920,1.2,0.22],[1930,1.58,0.22],[1940,1.9,0.22],[1950,2.07,0.22],[1960,2.05,0.22],[1970,1.85,0.22],[1980,1.47,0.22],[1990,1.05,0.25],[2000,0.78,0.3],[2009,0.56,0.4]];
const concealmentFit = [[1824,-1.31,0.75],[1870,-1.07,0.42],[1920,-0.8,0.28],[1970,-0.54,0.33],[2009,-0.33,0.55]];
const desireFit = [[1814,-0.48,0.5],[1830,-0.56,0.22],[1850,-0.64,0.17],[1870,-0.52,0.15],[1890,-0.28,0.15],[1910,-0.05,0.15],[1930,0.17,0.15],[1950,0.42,0.15],[1965,0.47,0.16],[1980,0.2,0.17],[1995,-0.14,0.2],[2008,-0.5,0.32]];
const groomingBodyCareFit = [[1812,-0.68,0.7],[1830,-1.25,0.32],[1850,-1.9,0.22],[1870,-2.42,0.2],[1890,-2.8,0.2],[1910,-3.03,0.2],[1930,-3.13,0.2],[1950,-3.13,0.2],[1970,-2.9,0.2],[1990,-2.46,0.22],[2009,-2.06,0.35]];
const judgmentFit = [[1811,0.26,0.28],[1860,0.44,0.17],[1910,0.63,0.13],[1960,0.81,0.17],[2009,1.0,0.27]];
const learningFit = [[1815,0.83,0.7],[1830,0.62,0.35],[1850,0.36,0.22],[1870,0.42,0.2],[1890,0.63,0.2],[1910,0.8,0.2],[1930,0.91,0.2],[1950,0.9,0.2],[1970,0.73,0.2],[1990,0.36,0.22],[2009,0.0,0.4]];
const perceptionFit = [[1811,-0.96,0.14],[1860,-0.84,0.09],[1910,-0.71,0.07],[1960,-0.58,0.09],[2008,-0.46,0.13]];
const throwingFit = [[1814,-0.43,0.35],[1840,-0.39,0.18],[1870,-0.31,0.14],[1900,-0.18,0.13],[1930,0.0,0.14],[1960,0.3,0.15],[1985,0.58,0.2],[2008,0.83,0.32]];
const touchingFit = [[1822,-0.15,0.5],[1870,-0.42,0.28],[1920,-0.7,0.22],[1970,-0.98,0.25],[2009,-1.2,0.38]];

const pointSets = [bodyVerbsPoints, changeOfPossessionPoints, changeOfStatePoints, combiningAttachingPoints,
  concealmentPoints, desirePoints, groomingBodyCarePoints, judgmentPoints,
  learningPoints, perceptionPoints, throwingPoints, touchingPoints];
const fitSets = [bodyVerbsFit, changeOfPossessionFit, changeOfStateFit, combiningAttachingFit,
  concealmentFit, desireFit, groomingBodyCareFit, judgmentFit,
  learningFit, perceptionFit, throwingFit, touchingFit];

const panels = categories.map((name, i) => ({ name, color: colors[i], points: pointSets[i], fit: fitSets[i] }));

// Facet grid geometry
const nCol = 4;
const panelW = 222, panelH = 162, stripH = 31;
const colStep = 232.2, rowStep = 204.5;
const originX = 8.3, originY = 12;

const x = d3.scaleLinear().domain([1800.05, 2018.95]).range([0, panelW]);
const y = d3.scaleLinear().domain([-4.444, 4.556]).range([panelH, 0]);

const svg = d3.select("#chart");
svg.append("rect").attr("width", 919).attr("height", 609).attr("fill", "#ffffff");
const defs = svg.append("defs");
defs.append("clipPath").attr("id", "panel-clip")
  .append("rect").attr("x", 0).attr("y", 0).attr("width", panelW).attr("height", panelH);

const trendLine = d3.line().x(d => x(d[0])).y(d => y(d[1])).curve(d3.curveNatural);
const trendBand = d3.area().x(d => x(d[0])).y0(d => y(d[1] - d[2])).y1(d => y(d[1] + d[2])).curve(d3.curveNatural);

panels.forEach((p, i) => {
  const col = i % nCol, row = Math.floor(i / nCol);
  const left = originX + col * colStep;
  const top = originY + row * rowStep;

  // panel body
  const g = svg.append("g").attr("transform", `translate(${left},${top + stripH})`);
  g.append("rect").attr("width", panelW).attr("height", panelH).attr("fill", "#ffffff");
  const body = g.append("g").attr("clip-path", "url(#panel-clip)");

  body.selectAll("line.xminor").data(xBreaksMinor).join("line")
    .attr("x1", d => x(d)).attr("x2", d => x(d)).attr("y1", 0).attr("y2", panelH)
    .attr("stroke", "#EBEBEB").attr("stroke-width", 0.8);
  body.selectAll("line.yminor").data(yBreaksMinor).join("line")
    .attr("y1", d => y(d)).attr("y2", d => y(d)).attr("x1", 0).attr("x2", panelW)
    .attr("stroke", "#EBEBEB").attr("stroke-width", 0.8);
  body.selectAll("line.xmajor").data(xBreaksMajor).join("line")
    .attr("x1", d => x(d)).attr("x2", d => x(d)).attr("y1", 0).attr("y2", panelH)
    .attr("stroke", "#EBEBEB").attr("stroke-width", 1.5);
  body.selectAll("line.ymajor").data(yBreaksMajor).join("line")
    .attr("y1", d => y(d)).attr("y2", d => y(d)).attr("x1", 0).attr("x2", panelW)
    .attr("stroke", "#EBEBEB").attr("stroke-width", 1.5);

  // reference line at zero
  body.append("line").attr("x1", 0).attr("x2", panelW).attr("y1", y(0)).attr("y2", y(0))
    .attr("stroke", "#A3A3A3").attr("stroke-width", 1.2);

  body.selectAll("circle").data(p.points).join("circle")
    .attr("cx", d => x(d[0])).attr("cy", d => y(d[1])).attr("r", 3.9)
    .attr("fill", p.color).attr("fill-opacity", 0.26)
    .attr("stroke", p.color).attr("stroke-opacity", 0.26).attr("stroke-width", 0.8);

  body.append("path").datum(p.fit).attr("d", trendBand)
    .attr("fill", "#999999").attr("fill-opacity", 0.4);
  body.append("path").datum(p.fit).attr("d", trendLine)
    .attr("fill", "none").attr("stroke", p.color).attr("stroke-width", 4.4)
    .attr("stroke-linecap", "butt");

  g.append("rect").attr("width", panelW).attr("height", panelH)
    .attr("fill", "none").attr("stroke", "#333333").attr("stroke-width", 1.1);

  // strip
  const s = svg.append("g").attr("transform", `translate(${left},${top})`);
  s.append("rect").attr("width", panelW).attr("height", stripH)
    .attr("fill", "#D9D9D9").attr("stroke", "#333333").attr("stroke-width", 1.1);
  s.append("text").attr("x", panelW / 2).attr("y", 22.3)
    .attr("text-anchor", "middle")
    .attr("font-family", "'Liberation Sans', Arial, Helvetica, sans-serif")
    .attr("font-size", 16.2).attr("fill", "#1A1A1A")
    .text(p.name);
});
</script>
</body>
</html>
